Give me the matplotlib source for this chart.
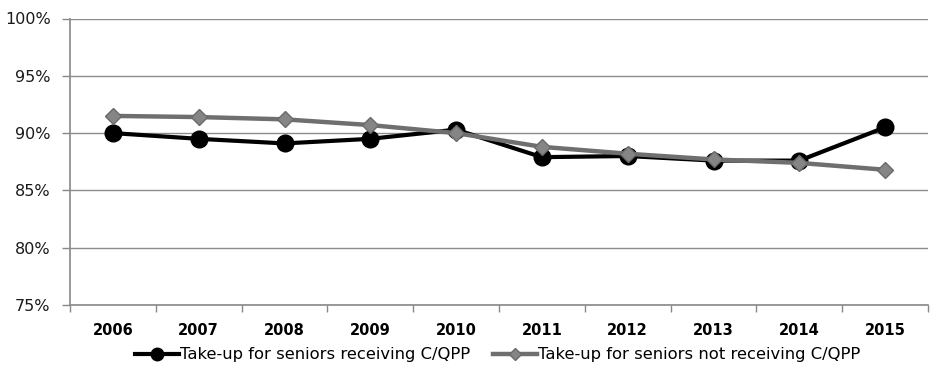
import matplotlib
matplotlib.use("Agg")
import matplotlib.pyplot as plt
import numpy as np

years = ["2006", "2007", "2008", "2009", "2010", "2011", "2012", "2013", "2014", "2015"]
receiving = [90.0, 89.5, 89.1, 89.5, 90.3, 87.9, 88.0, 87.6, 87.6, 90.5]
not_receiving = [91.5, 91.4, 91.2, 90.7, 90.0, 88.8, 88.2, 87.7, 87.4, 86.8]
yticks = [75, 80, 85, 90, 95, 100]

plt.rcParams['font.family'] = ['DejaVu Sans']

fig = plt.figure(figsize=(9.35, 3.72), dpi=100)
ax = fig.add_axes([70/935, 1 - 305/372, 858/935, 286.5/372])

x = np.arange(len(years))
ax.plot(x, receiving, color='black', lw=3, marker='o', ms=12, zorder=3,
        label='Take-up for seniors receiving C/QPP')
ax.plot(x, not_receiving, color='#6f6f6f', lw=3.2, marker='D', ms=8,
        markerfacecolor='#858585', markeredgecolor='#6a6a6a', zorder=4,
        label='Take-up for seniors not receiving C/QPP')

ax.set_xlim(-0.5, len(years) - 0.5)
ax.set_ylim(75, 100)
ax.set_yticks(yticks)
ax.set_yticklabels([f"{v}%" for v in yticks], fontsize=11.5, color='#1a1a1a')
ax.set_xticks(x)
ax.set_xticklabels(years, fontsize=10.5, fontweight='bold')
ax.tick_params(axis='x', length=0, pad=13)
ax.set_xticks(np.arange(-0.5, len(years)), minor=True)
ax.tick_params(axis='x', which='minor', length=5, color='#888888', width=1)
ax.tick_params(axis='y', length=6, color='#888888', width=1, pad=8)

ax.grid(axis='y', color='#8c8c8c', lw=1)
ax.set_axisbelow(True)
for s in ['top', 'right']:
    ax.spines[s].set_visible(False)
for s in ['left', 'bottom']:
    ax.spines[s].set_color('#888888')
    ax.spines[s].set_linewidth(1.2)

leg = fig.legend(loc='center', bbox_to_anchor=(0.532, 1 - 355/372), ncol=2,
                 frameon=False, fontsize=11.8, handlelength=2.7, handletextpad=0.05,
                 columnspacing=1.4, markerscale=0.75, borderpad=0, borderaxespad=0)

fig.savefig("out.png", dpi=100)
